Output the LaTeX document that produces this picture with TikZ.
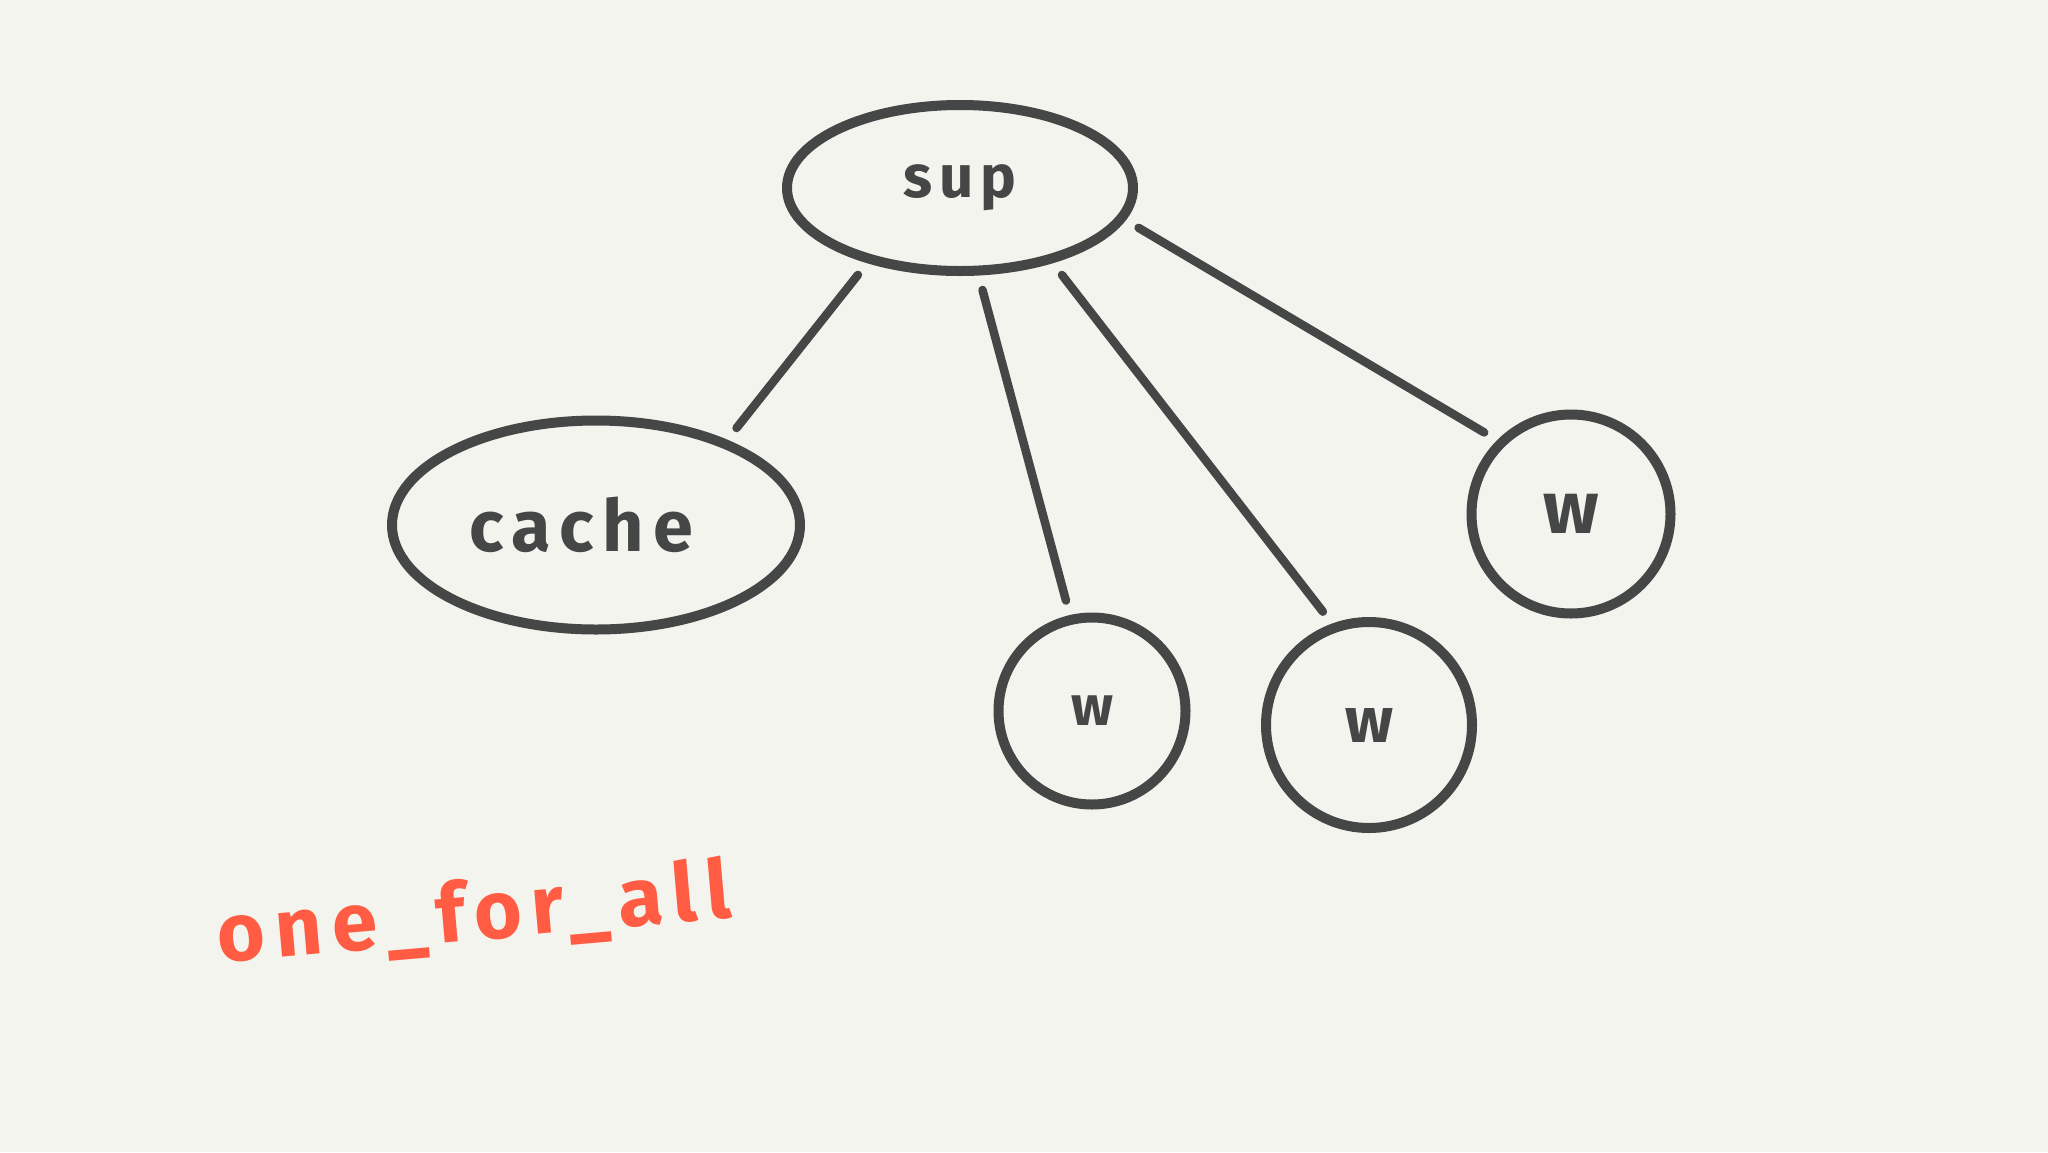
\documentclass[tikz,border=0pt]{standalone}
\usepackage{fontspec}
\setsansfont{Fira Sans}
\usepackage{tikz}
\usetikzlibrary{shapes.geometric}
\definecolor{paper}{HTML}{F4F4EE}
\definecolor{ink}{HTML}{454747}
\definecolor{marker}{HTML}{FF5C43}

\begin{document}
\begin{tikzpicture}[x=1pt, y=-1pt,
  bubble/.style={ellipse, draw=ink, line width=10pt, inner sep=0pt, text=ink},
  worker/.style={circle, draw=ink, line width=10pt, inner sep=0pt, text=ink},
  link/.style={draw=ink, line width=8.5pt, line cap=round, shorten <=15pt, shorten >=15pt},
  hand/.style={font=\sffamily\bfseries\addfontfeature{LetterSpace=12}\fontsize{#1}{#1}\selectfont}]
% paper
\fill[paper] (0,0) rectangle (2048,1152);

% supervisor, cache and workers
\node[bubble, minimum width=346pt, minimum height=166pt, hand=60] (sup) at (960,188) {sup};
\node[bubble, minimum width=408pt, minimum height=209pt, hand=72] (cache) at (596,525) {cache\hspace*{30pt}};
\node[worker, minimum size=187pt, hand=56] (w1) at (1092,711) {w};
\node[worker, minimum size=206pt, hand=64] (w2) at (1369,725) {w};
\node[worker, minimum size=199pt, hand=74] (w3) at (1571,514) {w};

\draw[link] (sup.219) -- (cache.33);
\draw[link] (sup.282) -- (w1.103);
\draw[link] (sup.321) -- (w2.110);
\draw[link] (sup.349) -- (w3.135);

% note
\node[text=marker, rotate=5, hand=82] (motto) at (474,916) {one\_for\_all};
\end{tikzpicture}
\end{document}
